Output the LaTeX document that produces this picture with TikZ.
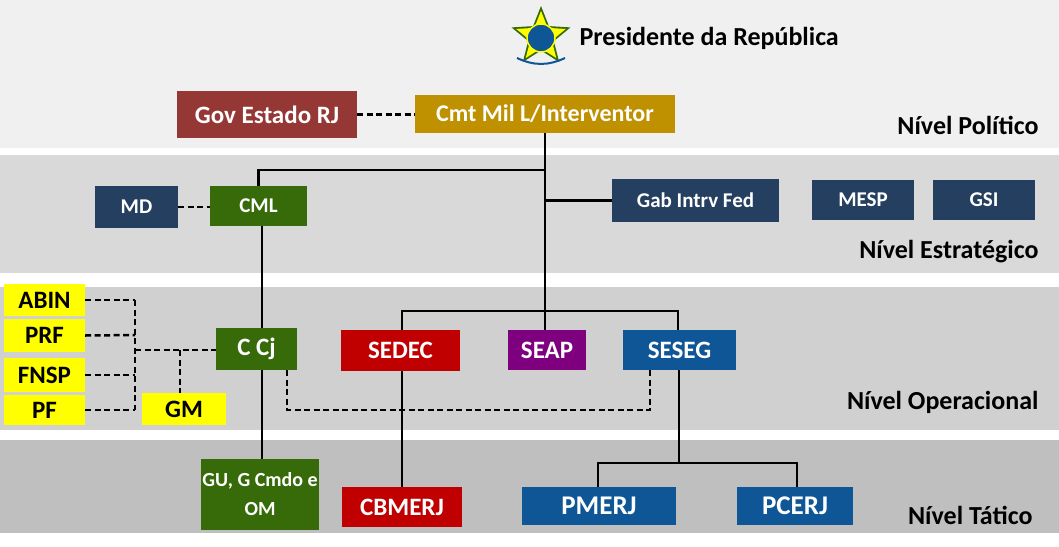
\documentclass[tikz,border=0pt]{standalone}
\usepackage{fontspec}
\setmainfont{Carlito}
\usetikzlibrary{shapes.geometric,calc}
\definecolor{band1}{HTML}{F0F0F0}
\definecolor{band2}{HTML}{D9D9D9}
\definecolor{band3}{HTML}{D0D0D0}
\definecolor{band4}{HTML}{BFBFBF}
\definecolor{govred}{HTML}{953735}
\definecolor{gold}{HTML}{BF9000}
\definecolor{navy}{HTML}{243F60}
\definecolor{grn}{HTML}{376B0A}
\definecolor{rd}{HTML}{C00000}
\definecolor{purp}{HTML}{7F007F}
\definecolor{blu}{HTML}{0F5696}
\definecolor{yel}{HTML}{FFFF00}
\newcommand{\fs}[1]{\fontsize{#1}{#1}\selectfont}
\begin{document}
\begin{tikzpicture}[x=1pt,y=-1pt,
  box/.style={draw=none,text=white,font=\bfseries\fs{21},align=center,inner sep=0pt},
  ybox/.style={box,text=black,fill=yel,font=\bfseries\fs{25}},
  lvl/.style={font=\bfseries\fs{26},anchor=east},
  solid line/.style={draw,line width=2.5pt},
  dash line/.style={draw,line width=2.5pt,dash pattern=on 6pt off 3.5pt}]
\useasboundingbox (0,0) rectangle (1059,546);
\fill[white] (0,0) rectangle (1059,546);
\fill[band1] (0,0) rectangle (1059,148);
\fill[band2] (0,155) rectangle (1059,273);
\fill[band3] (0,287) rectangle (1059,430);
\fill[band4] (0,440) rectangle (1059,533);
% emblem
\node[star,star points=5,star point ratio=2.3,fill=grn,minimum size=62pt,inner sep=0pt] (emb) at (541,37) {};
\node[star,star points=5,star point ratio=2.3,fill=yel,minimum size=52pt,inner sep=0pt] (emb2) at (541,37) {};
\node[circle,fill=blu,draw=yel,line width=1.5pt,minimum size=28pt,inner sep=0pt] (embc) at (541,38) {};
\draw[blu,line width=2pt] (517,58) to[bend right=25] (565,58);
\node[anchor=west,font=\bfseries\fs{26}] (pres) at (576,38) {Presidente da República};
% nodes
\newcommand{\bx}[7]{\node[#1,fill=#2,minimum width=#5pt-#3pt,minimum height=#6pt-#4pt] (#7) at ({(#3+#5)/2},{(#4+#6)/2})}
\bx{box}{govred}{177}{91}{357}{138}{gov} {\fs{25}Gov Estado RJ};
\bx{box}{gold}{415}{95}{675}{133}{cmt} {\fs{24}Cmt Mil L/Interventor};
\bx{box}{navy}{95}{186}{178}{228}{md} {MD};
\bx{box}{grn}{210}{186}{307}{226}{cml} {CML};
\bx{box}{navy}{612}{179}{779}{222}{gab} {Gab Intrv Fed};
\bx{box}{navy}{812}{180}{914}{220}{mesp} {MESP};
\bx{box}{navy}{933}{180}{1035}{220}{gsi} {GSI};
\bx{ybox}{yel}{4}{284}{85}{316}{abin} {ABIN};
\bx{ybox}{yel}{4}{319}{85}{352}{prf} {PRF};
\bx{ybox}{yel}{4}{358}{85}{392}{fnsp} {FNSP};
\bx{ybox}{yel}{4}{395}{85}{425}{pf} {PF};
\bx{ybox}{yel}{142}{393}{226}{425}{gm} {GM};
\bx{box}{grn}{216}{328}{297}{370}{ccj} {\fs{25}C Cj};
\bx{box}{rd}{341}{330}{460}{371}{sedec} {\fs{25}SEDEC};
\bx{box}{purp}{508}{330}{586}{370}{seap} {\fs{25}SEAP};
\bx{box}{blu}{623}{330}{736}{370}{seseg} {\fs{25}SESEG};
\bx{box}{grn}{201}{459}{319}{530}{gu} {\fs{20}GU, G Cmdo e\\[8pt]\fs{20}OM};
\bx{box}{rd}{342}{487}{462}{527}{cbm} {\fs{25}CBMERJ};
\bx{box}{blu}{522}{487}{676}{525}{pmerj} {\fs{27}PMERJ};
\bx{box}{blu}{737}{487}{853}{525}{pcerj} {\fs{27}PCERJ};
% levels
\node[lvl] (l1) at (1042,125) {Nível Político};
\node[lvl] (l2) at (1042,252) {Nível Estratégico};
\node[lvl] (l3) at (1042,402) {Nível Operacional};
\node[lvl] (l4) at (1036,515) {Nível Tático};
% solid connectors
\coordinate (j1) at (545,170);
\path[solid line] (cmt.south -| j1) -- (seap.north -| j1);
\path[solid line] (j1) -| (cml.north);
\path[solid line] (gab.west -| j1) -- (gab.west);
\path[solid line] (402,330) |- (678,311) -- (678,330);
\path[solid line] (cml.south -| 262,0) -- (ccj.north -| 262,0);
\path[solid line] (ccj.south -| 262,0) -- (gu.north -| 262,0);
\path[solid line] (sedec.south -| 402,0) -- (cbm.north -| 402,0);
\path[solid line] (seseg.south -| 679,0) -- (679,463);
\path[solid line] (pmerj.north -| 598,0) |- (797,463) -- (pcerj.north -| 797,0);
% dashed connectors
\path[dash line] (gov.east) -- (cmt.west |- gov.east);
\path[dash line] (md.east) -- (cml.west |- md.east);
\path[dash line] (abin.east) -- (135,300);
\path[dash line] (prf.east) -- (135,335);
\path[dash line] (fnsp.east) -- (135,375);
\path[dash line] (pf.east) -- (135,410);
\path[dash line] (135,300) -- (135,410);
\path[dash line] (135,350) -- (ccj.west |- 0,350);
\path[dash line] (180,350) -- (gm.north -| 180,0);
\path[dash line] (287,370) -- (287,410) -- (650,410) -- (650,370);
\end{tikzpicture}
\end{document}
